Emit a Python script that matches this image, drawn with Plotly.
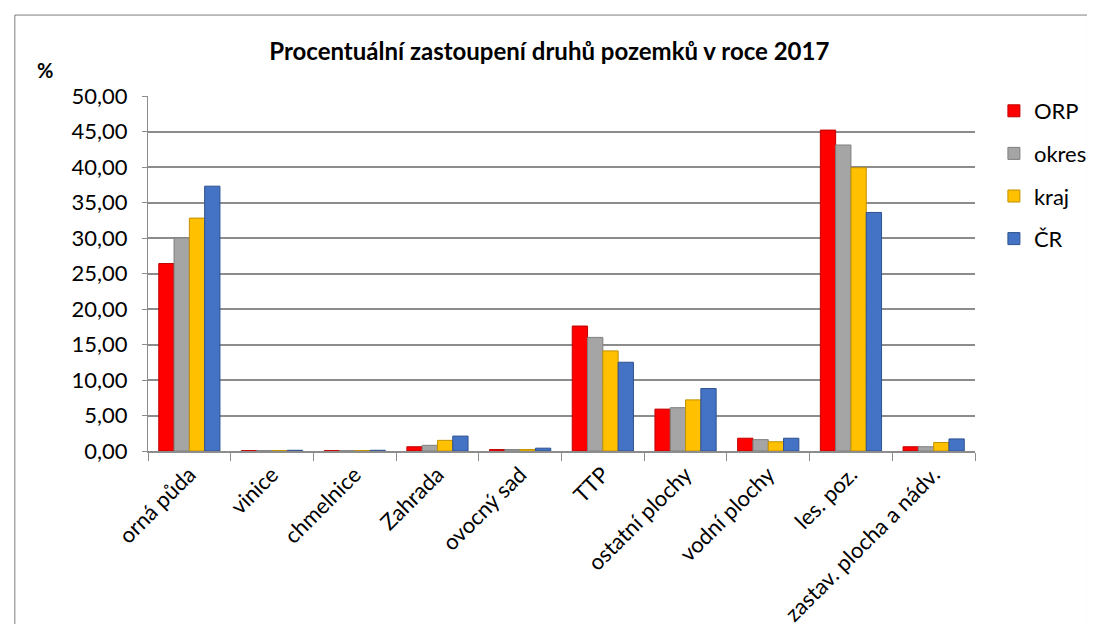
import plotly.graph_objects as go

categories = ["orná půda", "vinice", "chmelnice", "Zahrada", "ovocný sad", "TTP",
              "ostatní plochy", "vodní plochy", "les. poz.", "zastav. plocha a nádv."]
orp = [26.4, 0.05, 0.05, 0.6, 0.2, 17.6, 5.9, 1.8, 45.2, 0.6]
okres = [30.0, 0.05, 0.05, 0.8, 0.2, 16.0, 6.1, 1.6, 43.1, 0.6]
kraj = [32.8, 0.05, 0.05, 1.5, 0.2, 14.1, 7.2, 1.3, 39.9, 1.2]
cr = [37.3, 0.1, 0.1, 2.1, 0.4, 12.5, 8.8, 1.8, 33.6, 1.7]

series = [("ORP", orp, "#FF0000", "#C00000"),
          ("okres", okres, "#A5A5A5", "#7F7F7F"),
          ("kraj", kraj, "#FFC000", "#C09000"),
          ("ČR", cr, "#4472C4", "#2F528F")]

font_family = "Lato, 'Open Sans', sans-serif"

fig = go.Figure()
for name, vals, color, edge in series:
    fig.add_trace(go.Bar(
        x=categories, y=vals, name=name, legendgroup=name,
        marker=dict(color=color, line=dict(color=edge, width=1)),
    ))

# outer chart frame
fig.add_shape(type="rect", xref="paper", yref="paper",
              x0=-0.161, x1=1.136, y0=-0.6, y1=1.228,
              line=dict(color="#7F7F7F", width=1), layer="below")

fig.add_annotation(text="<b>%</b>", xref="paper", yref="paper",
                   x=-0.125, y=1.073, xanchor="center", yanchor="middle",
                   showarrow=False,
                   font=dict(size=20, color="black", family=font_family))

# page body adds an 8px margin, so keep the figure inside the window
fig.update_layout(
    width=1087, height=616,
    margin=dict(l=140, r=120, t=88, b=173),
    paper_bgcolor="white", plot_bgcolor="white",
    separators=", ",
    barmode="group", bargap=0.26, bargroupgap=0,
    font=dict(family=font_family, size=22, color="black"),
    title=dict(text="<b>Procentuální zastoupení druhů pozemků v roce 2017</b>",
               x=0.498, y=1 - 44 / 616, xanchor="center", yanchor="middle",
               font=dict(size=24, color="black", family=font_family)),
    legend=dict(xref="container", yref="container", x=0.907, y=1 - 82 / 616,
                xanchor="left", yanchor="top", bgcolor="rgba(0,0,0,0)",
                tracegroupgap=11, font=dict(size=22)),
)
fig.update_yaxes(range=[0, 50], dtick=5, tickformat=".2f",
                 showgrid=True, gridcolor="#8C8C8C", gridwidth=2,
                 showline=True, linecolor="#8C8C8C", linewidth=1,
                 ticks="outside", ticklen=5, tickcolor="#8C8C8C",
                 ticklabelstandoff=10, automargin=False,
                 zeroline=False, tickfont=dict(size=22))
fig.update_xaxes(tickangle=-45, showline=True, linecolor="#8C8C8C", linewidth=2,
                 ticks="outside", ticklen=8, tickcolor="#8C8C8C",
                 tickson="boundaries", automargin=False, tickfont=dict(size=22))

fig.write_html("out.html")
